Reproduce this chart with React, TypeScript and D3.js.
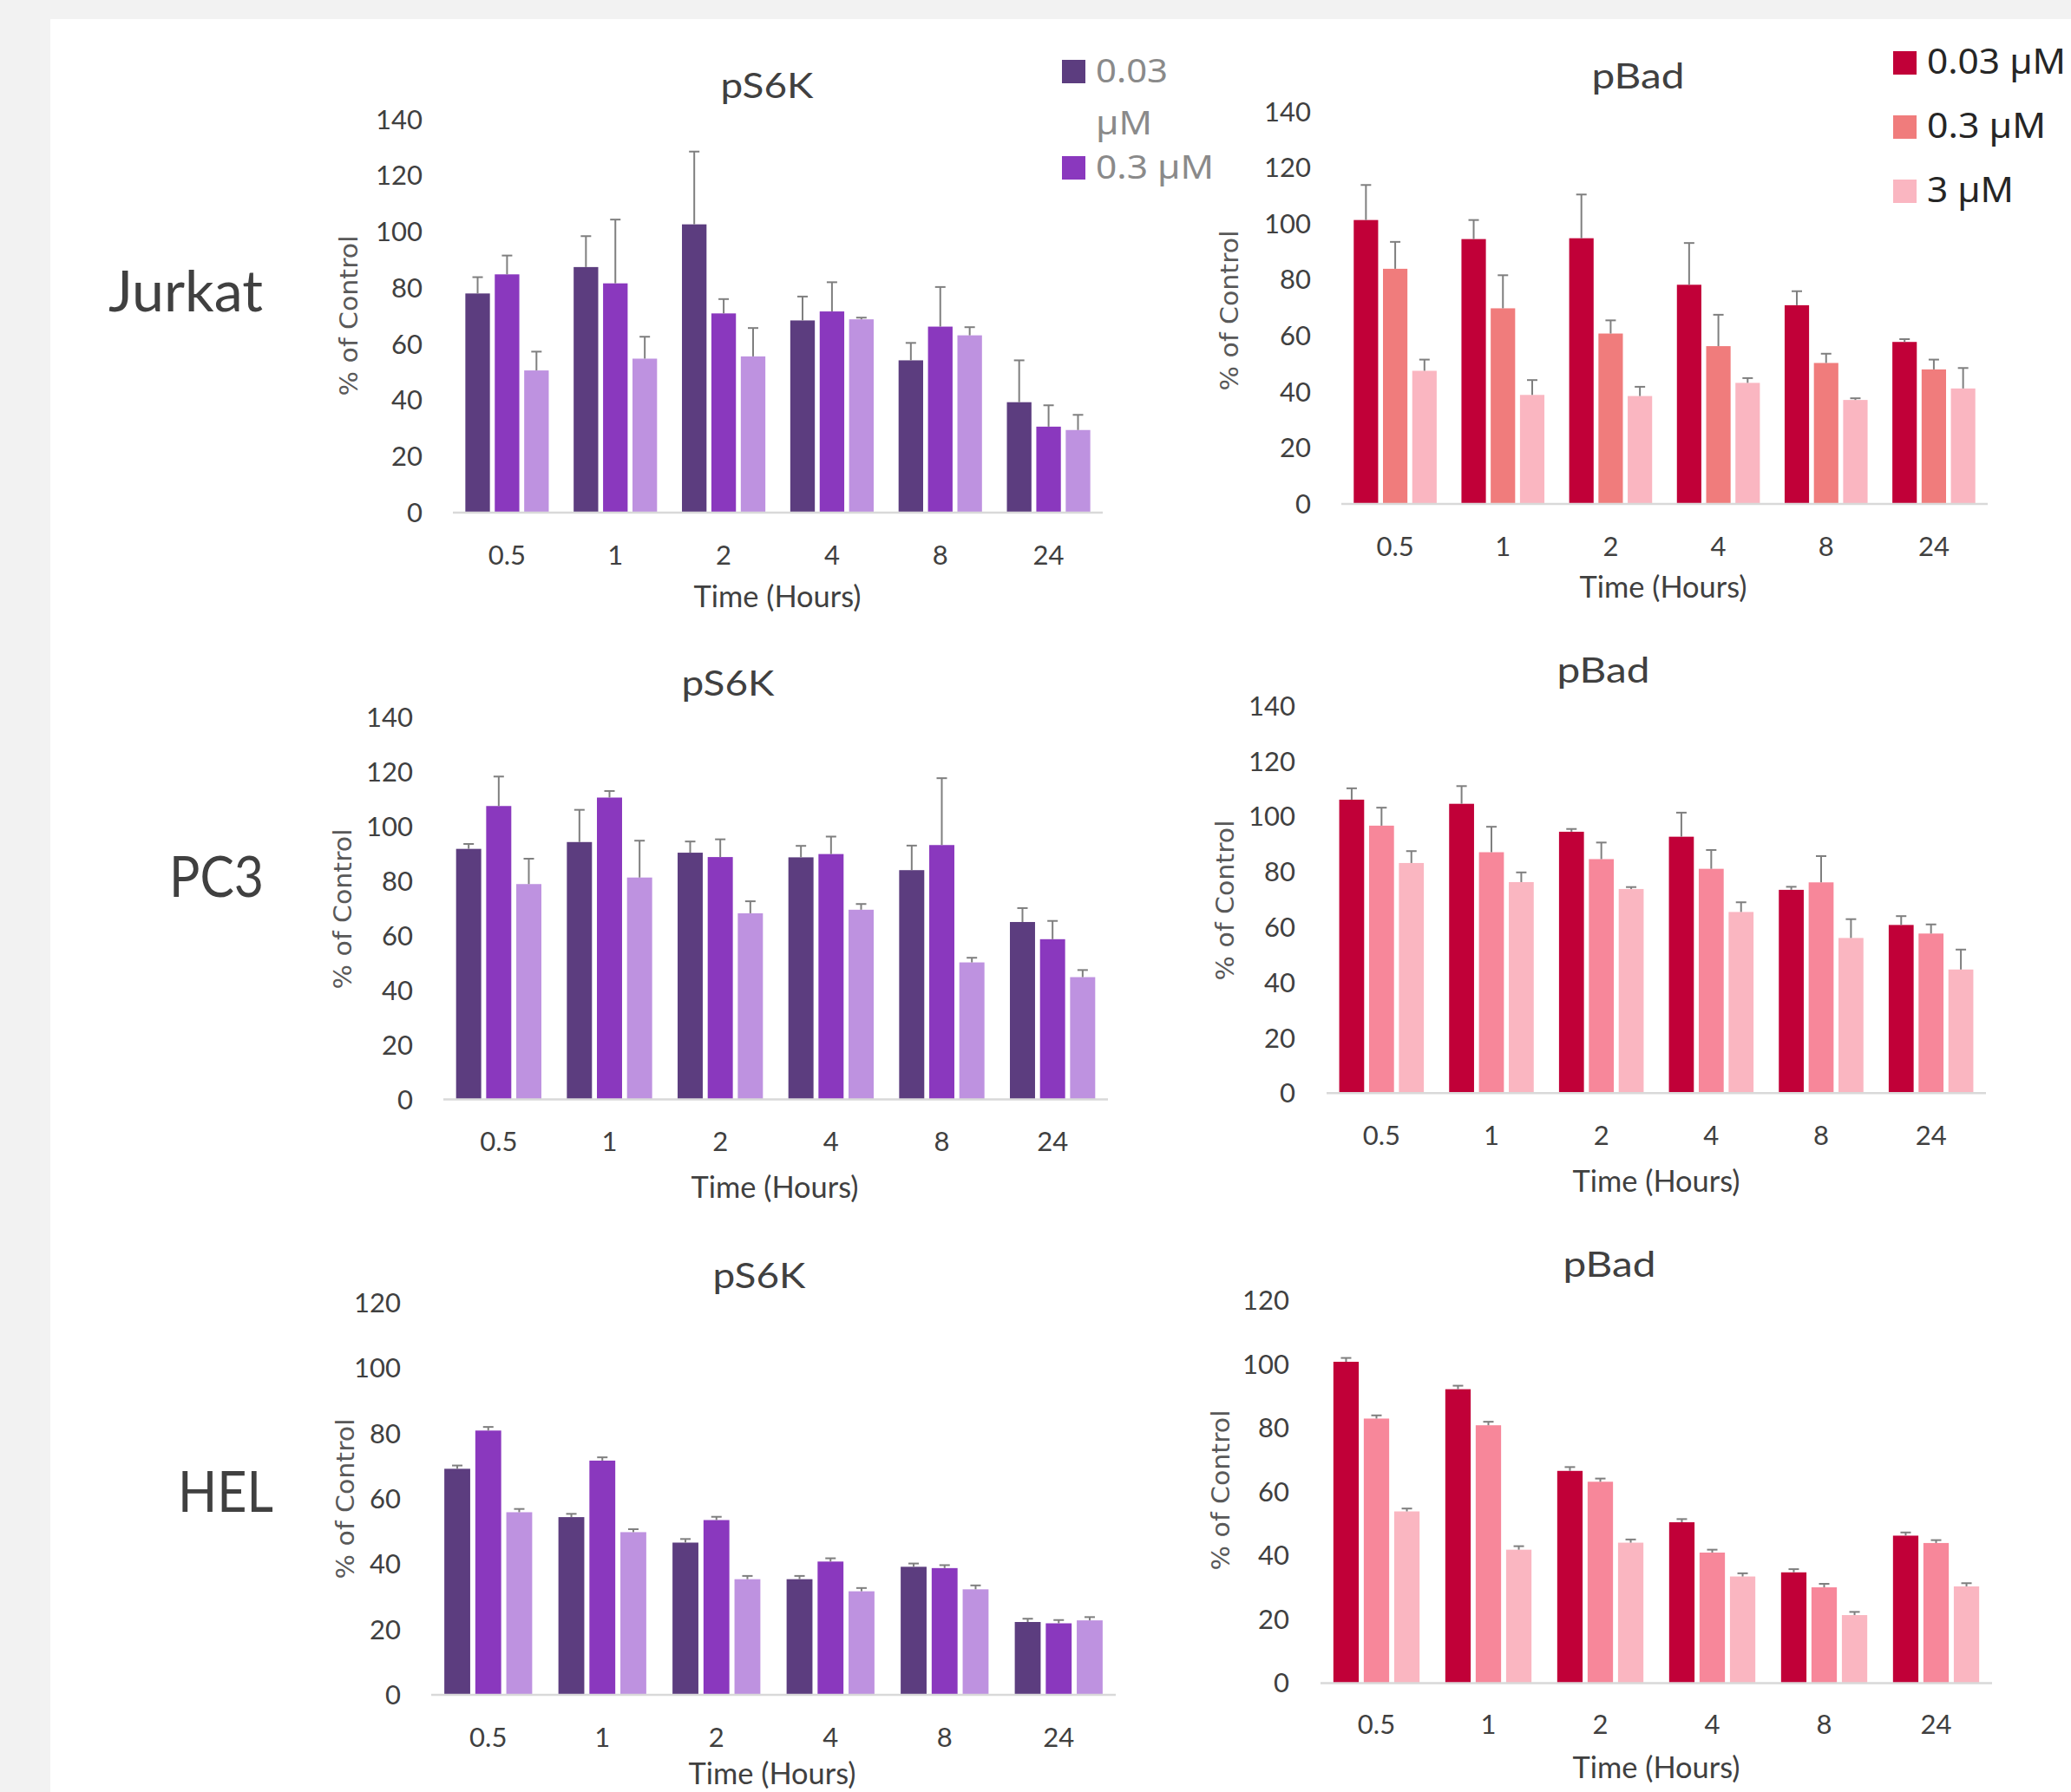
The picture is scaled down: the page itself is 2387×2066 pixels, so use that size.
import React from 'react';
import * as d3 from 'd3';

// ---------- DATA ----------
const timePoints = ['0.5', '1', '2', '4', '8', '24'];
const doses = ['0.03 µM', '0.3 µM', '3 µM'];
const yTicks140 = [0, 20, 40, 60, 80, 100, 120, 140];
const yTicks120 = [0, 20, 40, 60, 80, 100, 120];

// Jurkat – pS6K  [dose][time]
const jurkatS6KMean = [
  [78.0, 87.4, 102.6, 68.4, 54.2, 39.3],
  [84.8, 81.6, 70.9, 71.6, 66.2, 30.6],
  [50.6, 54.8, 55.6, 68.8, 63.1, 29.4],
];
const jurkatS6KErr = [
  [5.8, 11.0, 25.9, 8.5, 6.2, 14.9],
  [6.7, 22.7, 5.1, 10.4, 14.1, 7.6],
  [6.7, 7.8, 10.1, 0.6, 2.9, 5.4],
];
// Jurkat – pBad
const jurkatBadMean = [
  [101.3, 94.5, 94.8, 78.2, 70.9, 57.8],
  [83.9, 69.8, 60.8, 56.3, 50.3, 48.0],
  [47.5, 38.9, 38.5, 43.2, 37.1, 41.2],
];
const jurkatBadErr = [
  [12.5, 6.8, 15.6, 14.9, 5.0, 1.0],
  [9.6, 11.8, 4.7, 11.2, 3.3, 3.5],
  [4.0, 5.3, 3.3, 1.7, 0.6, 7.3],
];
// PC3 – pS6K
const pc3S6KMean = [
  [91.8, 94.3, 90.4, 88.7, 84.0, 65.0],
  [107.5, 110.6, 88.8, 89.9, 93.2, 58.7],
  [78.9, 81.3, 68.2, 69.5, 50.2, 44.8],
];
const pc3S6KErr = [
  [1.8, 11.8, 4.1, 4.2, 9.0, 5.1],
  [10.8, 2.4, 6.5, 6.4, 24.5, 6.7],
  [9.3, 13.5, 4.4, 2.1, 1.7, 2.6],
];
// PC3 – pBad
const pc3BadMean = [
  [106.1, 104.6, 94.5, 92.7, 73.5, 60.8],
  [96.7, 87.1, 84.6, 81.1, 76.2, 57.7],
  [83.2, 76.3, 73.8, 65.5, 56.1, 44.7],
];
const pc3BadErr = [
  [4.1, 6.4, 1.0, 8.7, 1.1, 3.2],
  [6.5, 9.2, 6.0, 6.8, 9.5, 3.3],
  [4.3, 3.5, 0.7, 3.5, 6.8, 7.2],
];
// HEL – pS6K
const helS6KMean = [
  [69.2, 54.4, 46.6, 35.4, 39.2, 22.3],
  [80.9, 71.7, 53.5, 40.8, 38.8, 21.9],
  [55.9, 49.8, 35.4, 31.7, 32.3, 22.8],
];
const helS6KErr = [
  [1.0, 1.0, 1.1, 1.0, 1.0, 1.0],
  [1.1, 1.0, 1.0, 1.0, 0.9, 1.0],
  [1.0, 0.9, 1.0, 1.0, 1.2, 1.0],
];
// HEL – pBad
const helBadMean = [
  [100.7, 92.1, 66.5, 50.4, 34.7, 46.2],
  [82.9, 80.8, 63.1, 40.9, 30.0, 43.9],
  [53.8, 41.8, 44.0, 33.4, 21.3, 30.3],
];
const helBadErr = [
  [1.2, 1.1, 1.2, 1.0, 1.0, 1.0],
  [1.0, 1.1, 1.0, 0.9, 1.1, 0.9],
  [0.9, 1.1, 1.0, 1.0, 1.0, 1.0],
];

// ---------- STYLE ----------
const W = 2387;
const H = 2066;
const FONT = 'Lato, "Noto Sans", sans-serif';
const TEXT = '#404040';
const purples = ['#5C3D7F', '#8A38BE', '#BE92E0'];
const redsJurkat = ['#C10038', '#F07C7C', '#FAB6C1'];
const redsPink = ['#C10038', '#F7879A', '#FAB6C1'];

type Layout = {
  ax0: number; ax1: number; y0: number; yTop: number; max: number;
  titleX: number; titleY: number; titleW: number;
  tickRight: number; tickBase: number;
  yTitleX: number; yTitleY: number;
  xTitleX: number; xTitleY: number;
};

const layouts: Record<string, Layout> = {
  A: { ax0: 522, ax1: 1271, y0: 591, yTop: 137.5, max: 140, titleX: 884, titleY: 113, titleW: 107, tickRight: 487, tickBase: 651, yTitleX: 412, yTitleY: 364, xTitleX: 896, xTitleY: 700 },
  B: { ax0: 1546, ax1: 2291, y0: 581, yTop: 128.6, max: 140, titleX: 1888, titleY: 102, titleW: 107, tickRight: 1511, tickBase: 641, yTitleX: 1427, yTitleY: 358, xTitleX: 1917, xTitleY: 689 },
  C: { ax0: 511, ax1: 1277, y0: 1267.5, yTop: 827, max: 140, titleX: 839, titleY: 802, titleW: 107, tickRight: 476, tickBase: 1327, yTitleX: 405, yTitleY: 1048, xTitleX: 893, xTitleY: 1381 },
  D: { ax0: 1529, ax1: 2289, y0: 1260.3, yTop: 813.8, max: 140, titleX: 1848, titleY: 787, titleW: 107, tickRight: 1493, tickBase: 1320, yTitleX: 1422, yTitleY: 1038, xTitleX: 1909, xTitleY: 1374 },
  E: { ax0: 497, ax1: 1286, y0: 1954, yTop: 1502, max: 120, titleX: 875, titleY: 1485, titleW: 107, tickRight: 462, tickBase: 2014, yTitleX: 408, yTitleY: 1728, xTitleX: 890, xTitleY: 2057 },
  F: { ax0: 1522, ax1: 2296, y0: 1940.4, yTop: 1499, max: 120, titleX: 1855, titleY: 1472, titleW: 107, tickRight: 1486, tickBase: 1999, yTitleX: 1417, yTitleY: 1718, xTitleX: 1909, xTitleY: 2050 },
};

type PanelProps = {
  title: string; means: number[][]; errs: number[][]; colors: string[];
  ticks: number[]; L: Layout;
};

function Panel({ title, means, errs, colors, ticks, L }: PanelProps) {
  const x0 = d3.scaleBand<string>().domain(timePoints).range([L.ax0, L.ax1]).paddingInner(0.23).paddingOuter(0.115);
  const x1 = d3.scaleBand<string>().domain(doses).range([0, x0.bandwidth()]).paddingInner(0.165);
  const y = d3.scaleLinear().domain([0, L.max]).range([L.y0, L.yTop]);
  const capW = 12;
  return (
    <g>
      <text x={L.titleX} y={L.titleY} textAnchor="middle" fontFamily={FONT} fontSize={40} fill={TEXT}
        textLength={L.titleW} lengthAdjust="spacingAndGlyphs">{title}</text>
      {ticks.map((t) => (
        <text key={t} x={L.tickRight} y={y(t) + 11} textAnchor="end" fontFamily={FONT} fontSize={31} fill={TEXT}>{t}</text>
      ))}
      {doses.map((dose, si) => (
        <g key={dose}>
          {timePoints.map((tp, ti) => {
            const v = means[si][ti];
            const e = errs[si][ti];
            const bx = (x0(tp) as number) + (x1(dose) as number);
            const bw = x1.bandwidth();
            const cx = bx + bw / 2;
            return (
              <g key={tp}>
                <rect x={bx} y={y(v)} width={bw} height={y(0) - y(v)} fill={colors[si]} />
                <line x1={cx} x2={cx} y1={y(v)} y2={y(v + e)} stroke="#7F7F7F" strokeWidth={2} />
                <line x1={cx - capW / 2} x2={cx + capW / 2} y1={y(v + e)} y2={y(v + e)} stroke="#7F7F7F" strokeWidth={2} />
              </g>
            );
          })}
        </g>
      ))}
      <line x1={L.ax0} x2={L.ax1} y1={L.y0} y2={L.y0} stroke="#D9D9D9" strokeWidth={2.5} />
      {timePoints.map((tp) => (
        <text key={tp} x={(x0(tp) as number) + x0.bandwidth() / 2} y={L.tickBase} textAnchor="middle"
          fontFamily={FONT} fontSize={31} fill={TEXT}>{tp}</text>
      ))}
      <text x={L.xTitleX} y={L.xTitleY} textAnchor="middle" fontFamily={FONT} fontSize={34} fill={TEXT}
        textLength={193} lengthAdjust="spacingAndGlyphs">Time (Hours)</text>
      <text transform={`translate(${L.yTitleX},${L.yTitleY}) rotate(-90)`} textAnchor="middle"
        fontFamily='"DejaVu Sans", sans-serif' fontSize={29} fill="#595959"
        textLength={185} lengthAdjust="spacingAndGlyphs">% of Control</text>
    </g>
  );
}

const LEG_FONT = '"Noto Sans", "Open Sans", sans-serif';

export default function App() {
  return (
    <svg width={W} height={H} style={{ position: 'absolute', left: 0, top: 0, display: 'block' }}>
      <rect x={0} y={0} width={W} height={H} fill="#F2F2F2" />
      <rect x={58} y={22} width={W - 58} height={H - 22} fill="#FFFFFF" />

      {/* Row labels */}
      <text x={125} y={359} fontFamily={FONT} fontSize={66} fill={TEXT} textLength={178} lengthAdjust="spacingAndGlyphs">Jurkat</text>
      <text x={195} y={1034} fontFamily={FONT} fontSize={66} fill={TEXT} textLength={109} lengthAdjust="spacingAndGlyphs">PC3</text>
      <text x={205} y={1743} fontFamily={FONT} fontSize={66} fill={TEXT} textLength={110} lengthAdjust="spacingAndGlyphs">HEL</text>

      <Panel title="pS6K" means={jurkatS6KMean} errs={jurkatS6KErr} colors={purples} ticks={yTicks140} L={layouts.A} />
      <Panel title="pBad" means={jurkatBadMean} errs={jurkatBadErr} colors={redsJurkat} ticks={yTicks140} L={layouts.B} />
      <Panel title="pS6K" means={pc3S6KMean} errs={pc3S6KErr} colors={purples} ticks={yTicks140} L={layouts.C} />
      <Panel title="pBad" means={pc3BadMean} errs={pc3BadErr} colors={redsPink} ticks={yTicks140} L={layouts.D} />
      <Panel title="pS6K" means={helS6KMean} errs={helS6KErr} colors={purples} ticks={yTicks120} L={layouts.E} />
      <Panel title="pBad" means={helBadMean} errs={helBadErr} colors={redsPink} ticks={yTicks120} L={layouts.F} />

      {/* Legend – pS6K (Jurkat) */}
      <rect x={1224} y={69} width={27} height={27} fill={purples[0]} />
      <text x={1263} y={95} fontFamily={LEG_FONT} fontSize={39} fill="#8A8A8A" textLength={83} lengthAdjust="spacingAndGlyphs">0.03</text>
      <text x={1263} y={155} fontFamily={LEG_FONT} fontSize={39} fill="#8A8A8A" textLength={65} lengthAdjust="spacingAndGlyphs">µM</text>
      <rect x={1224} y={180} width={27} height={27} fill={purples[1]} />
      <text x={1263} y={206} fontFamily={LEG_FONT} fontSize={39} fill="#8A8A8A" textLength={136} lengthAdjust="spacingAndGlyphs">0.3 µM</text>

      {/* Legend – pBad (Jurkat) */}
      {doses.map((d, i) => (
        <g key={d}>
          <rect x={2182} y={59 + i * 74} width={27} height={27} fill={redsJurkat[i]} />
          <text x={2221} y={85 + i * 74} fontFamily={LEG_FONT} fontSize={40} fill="#262626"
            textLength={[160, 137, 100][i]} lengthAdjust="spacingAndGlyphs">{d}</text>
        </g>
      ))}
    </svg>
  );
}
